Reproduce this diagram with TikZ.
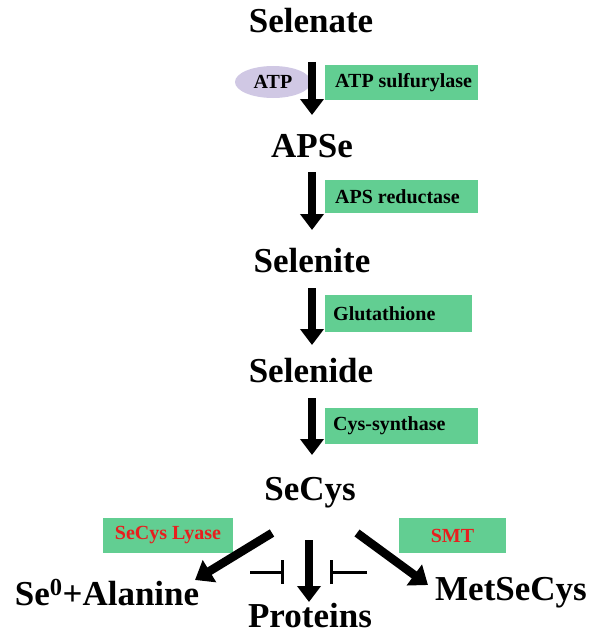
\documentclass[tikz,border=0pt]{standalone}
\usepackage{fontspec}
\setmainfont{Liberation Serif}
\usetikzlibrary{arrows.meta,shapes.geometric}
\definecolor{boxgreen}{RGB}{98,206,146}
\definecolor{atplav}{RGB}{208,200,228}
\definecolor{enzred}{RGB}{232,30,30}
\newcommand\enztext[2]{\makebox[#1][l]{#2}}
\tikzset{
  metab/.style={font=\bfseries\fontsize{35}{36}\selectfont, inner sep=0pt, anchor=base},
  enzbox/.style={fill=boxgreen, minimum height=35pt, anchor=west, inner xsep=10pt, inner ysep=0pt,
     font=\bfseries\fontsize{20}{22}\selectfont},
  redbox/.style={fill=boxgreen, minimum height=35pt, inner ysep=0pt, text=enzred,
     font=\bfseries\fontsize{20}{22}\selectfont},
  bigarrow/.style={line width=7.5pt, -{Triangle[length=16pt,width=23pt]}},
  diagarrow/.style={line width=8.5pt, -{Triangle[length=17pt,width=25pt]}},
  inhib/.style={line width=3pt, -{Bar[width=24pt,line width=3pt]}},
}
\begin{document}
\begin{tikzpicture}[x=1pt,y=-1pt]
\useasboundingbox (0,0) rectangle (591,634);
% metabolites (anchored at baseline)
\node[metab] (sel) at (311,33) {Selenate};
\node[metab] (apse) at (312,157) {APSe};
\node[metab] (selite) at (312,272) {Selenite};
\node[metab] (selide) at (311,382) {Selenide};
\node[metab] (secys) at (310,500) {SeCys};
\node[metab] (ala) at (107,605) {Se\textsuperscript{0}+Alanine};
\node[metab] (prot) at (310,627) {Proteins};
\node[metab] (met) at (511,600) {MetSeCys};
% enzymes
\node[fill=atplav, ellipse, minimum width=76pt, minimum height=32pt, inner sep=0pt,
  font=\bfseries\fontsize{20}{22}\selectfont] (atp) at (273,82) {ATP};
\node[enzbox] (e1) at (325,82.5) {\enztext{133pt}{ATP sulfurylase}};
\node[enzbox, minimum height=33pt] (e2) at (325,196.5) {\enztext{133pt}{APS reductase}};
\node[enzbox, inner xsep=8pt, minimum height=37pt] (e3) at (325,313.5) {\enztext{131pt}{Glutathione}};
\node[enzbox, inner xsep=8pt, minimum height=36pt] (e4) at (325,426) {\enztext{137pt}{Cys-synthase}};
\node[redbox, minimum width=130pt] (e5) at (168,535.5) {SeCys Lyase};
\node[redbox, minimum width=107pt] (e6) at (452.5,535.5) {SMT};
% main arrows
\draw[bigarrow] ([xshift=1pt,yshift=-29pt]sel.base) -- ([yshift=42pt]apse.base);
\draw[bigarrow] ([yshift=-15pt]apse.base) -- ([yshift=42pt]selite.base);
\draw[bigarrow] ([yshift=-16pt]selite.base) -- ([xshift=1pt,yshift=37pt]selide.base);
\draw[bigarrow] ([xshift=1pt,yshift=-16pt]selide.base) -- ([xshift=2pt,yshift=45pt]secys.base);
\draw[bigarrow] ([xshift=-1pt,yshift=-40pt]secys.base) -- ([xshift=-1pt,yshift=25pt]prot.base);
\draw[diagarrow] ([xshift=-38pt,yshift=-33pt]secys.base) -- ([xshift=88pt,yshift=25pt]ala.base);
\draw[diagarrow] ([xshift=47pt,yshift=-33pt]secys.base) -- ([xshift=-83pt,yshift=15pt]met.base);
% inhibitions
\coordinate (inL) at (250,572);
\coordinate (inR) at (367,572);
\coordinate (tL) at (284,572);
\coordinate (tR) at (330,572);
\draw[inhib] (inL) -- (tL);
\draw[inhib] (inR) -- (tR);
\end{tikzpicture}
\end{document}
